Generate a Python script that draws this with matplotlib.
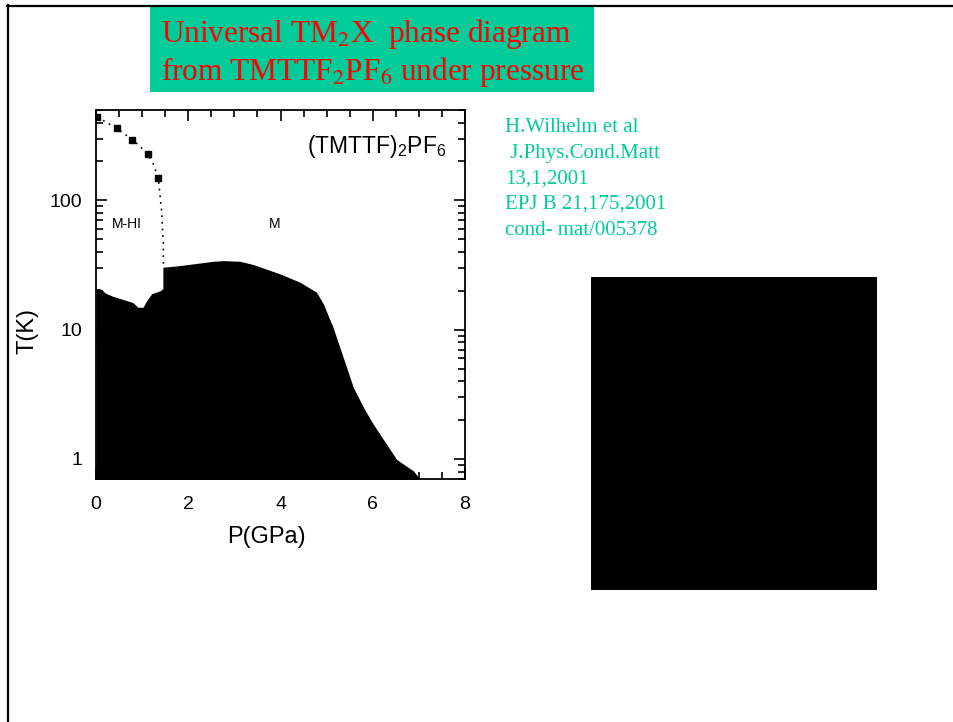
import matplotlib
matplotlib.use('Agg')
import matplotlib.pyplot as plt
from matplotlib.patches import Rectangle
from matplotlib.lines import Line2D
from matplotlib.ticker import FixedLocator, NullFormatter, LogLocator

plt.rcParams['font.family'] = ['Liberation Sans', 'DejaVu Sans']
plt.rcParams['mathtext.fontset'] = 'custom'
plt.rcParams['mathtext.rm'] = 'Liberation Sans'
plt.rcParams['mathtext.it'] = 'Liberation Sans'

# lower boundary of the metallic region (black = ordered / SC phases)
P_edge = [0, 0.08, 0.15, 0.2, 0.35, 0.8, 0.91, 1.02, 1.1, 1.21, 1.39, 1.45, 1.45,
          1.82, 2.54, 2.76, 3.12, 3.41, 3.99, 4.42, 4.78, 4.93, 5.14, 5.36,
          5.58, 5.80, 6.01, 6.30, 6.52, 6.88, 7.02]
T_edge = [20.8, 20.8, 20.0, 19.2, 18.2, 16.2, 14.9, 14.9, 16.8, 19.0, 20.0, 20.8, 30.4,
          31.3, 33.8, 34.2, 33.8, 31.9, 27.0, 23.3, 19.5, 15.8, 10.4, 6.1,
          3.57, 2.5, 1.86, 1.30, 0.99, 0.81, 0.70]

# M-HI -> M crossover (squares) and its dotted guide
P_sq = [0.03, 0.45, 0.79, 1.12, 1.35]
T_sq = [442, 360, 295, 230, 149]
P_dot = [0.03, 0.45, 0.79, 1.12, 1.24, 1.35, 1.42, 1.46, 1.46]
T_dot = [442, 360, 295, 230, 192, 149, 84, 46, 31]

ref_lines = ['H.Wilhelm et al', ' J.Phys.Cond.Matt', '13,1,2001',
             'EPJ B 21,175,2001', 'cond- mat/005378']

green = '#00cc99'
W, H = 954, 722
fig = plt.figure(figsize=(W / 100, H / 100), dpi=100)

# slide frame
fig.add_artist(Line2D([7 / W, 1], [1 - 6 / H] * 2, transform=fig.transFigure,
                      color='black', lw=1.6))
fig.add_artist(Line2D([8 / W] * 2, [1 - 5 / H, 0], transform=fig.transFigure,
                      color='black', lw=1.6))

# title box
fig.add_artist(Rectangle((150 / W, 1 - 92 / H), 444 / W, 85 / H,
                         transform=fig.transFigure, color=green, lw=0))
fig.text(161 / W, 1 - 42 / H, 'Universal TM$_2$X  phase diagram', color='red',
         fontsize=22.5, family='Liberation Serif', math_fontfamily='stix')
fig.text(161 / W, 1 - 80 / H, 'from TMTTF$_2$PF$_6$ under pressure', color='red',
         fontsize=22.5, family='Liberation Serif', math_fontfamily='stix')

# reference text
for i, s in enumerate(ref_lines):
    fig.text(505 / W, 1 - (128 + 25.5 * i) / H, s, color=green, fontsize=15,
             family='Liberation Serif', va='center')

# black image placeholder
fig.add_artist(Rectangle((591 / W, 1 - 590 / H), 286 / W, 313 / H,
                         transform=fig.transFigure, color='black', lw=0))

ax = fig.add_axes([96 / W, 1 - 479 / H, 369 / W, 369 / H])
ax.set_yscale('log')
ax.set_xlim(0, 8)
ax.set_ylim(0.7, 500)

ax.fill_between(P_edge, 0.1, T_edge, color='black', lw=0)
ax.plot(P_dot, T_dot, color='black', ls=(0, (1, 3)), lw=1.2)
ax.plot(P_sq, T_sq, 's', color='black', ms=5)

ax.text(0.68, 66, 'M-HI', fontsize=10, ha='center', va='center')
ax.text(3.88, 66, 'M', fontsize=10, ha='center', va='center')
ax.text(7.6, 260, '(TMTTF)$_2$PF$_6$', fontsize=16.5, ha='right', va='center')

ax.set_xticks([0, 2, 4, 6, 8])
ax.xaxis.set_minor_locator(FixedLocator([0.5 * k for k in range(17)]))
ax.set_yticks([1, 10, 100], ['1', '10', '100'])
ax.yaxis.set_minor_locator(LogLocator(base=10, subs=range(2, 10)))
ax.yaxis.set_minor_formatter(NullFormatter())
ax.tick_params(which='both', direction='in', top=True, right=True, width=1.2)
ax.tick_params(which='major', length=8, labelsize=14)
ax.tick_params(axis='x', which='major', pad=12)
ax.tick_params(axis='y', which='major', pad=10)
ax.tick_params(which='minor', length=5)
for sp in ax.spines.values():
    sp.set_linewidth(1.3)

ax.set_xlabel('P(GPa)', fontsize=17)
ax.set_ylabel('T(K)', fontsize=17)
ax.xaxis.set_label_coords(0.461, -0.127)
ax.yaxis.set_label_coords(-0.157, 0.401)

fig.savefig('out.png', dpi=100)
